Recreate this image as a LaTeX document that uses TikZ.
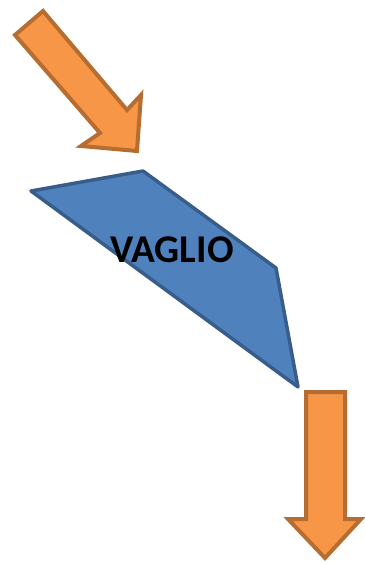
\documentclass[tikz,border=0pt]{standalone}
\usepackage{fontspec}
\setmainfont{Carlito}
\definecolor{arrowfill}{HTML}{F79646}
\definecolor{arrowline}{HTML}{B66D31}
\definecolor{sievefill}{HTML}{4F81BD}
\definecolor{sieveline}{HTML}{385D8A}
\tikzset{
  feed/.style={fill=arrowfill, draw=arrowline, line width=3pt, line join=miter},
  sieve/.style={fill=sievefill, draw=sieveline, line width=2.6pt, line join=round}
}
\begin{document}
\begin{tikzpicture}[x=0.75pt,y=-0.75pt]
	\useasboundingbox (0,0) rectangle (364,563);
	% ingresso
	\coordinate (ia) at (15,35) ;
	\coordinate (ib) at (43,11) ;
	\coordinate (ic) at (127,110) ;
	\coordinate (id) at (141,95) ;
	\coordinate (ie) at (137,151) ;
	\coordinate (if) at (81,146) ;
	\coordinate (ig) at (100,133) ;
	\filldraw[feed] (ia) -- (ib) -- (ic) -- (id) -- (ie) -- (if) -- (ig) -- cycle;
	% vaglio
	\coordinate (va) at (31,191) ;
	\coordinate (vb) at (143,171) ;
	\coordinate (vc) at (276,268) ;
	\coordinate (vd) at (298,387) ;
	\filldraw[sieve] (va) -- (vb) -- (vc) -- (vd) -- cycle;
	\node[font=\fontsize{29.5}{34}\selectfont\bfseries, black] (vaglio) at (172,250) {VAGLIO};
	% uscita
	\coordinate (ua) at (306,392) ;
	\coordinate (ub) at (345,392) ;
	\coordinate (uc) at (345,519) ;
	\coordinate (ud) at (361,519) ;
	\coordinate (ue) at (325,558) ;
	\coordinate (uf) at (288,519) ;
	\coordinate (ug) at (306,519) ;
	\filldraw[feed] (ua) -- (ub) -- (uc) -- (ud) -- (ue) -- (uf) -- (ug) -- cycle;
\end{tikzpicture}
\end{document}
